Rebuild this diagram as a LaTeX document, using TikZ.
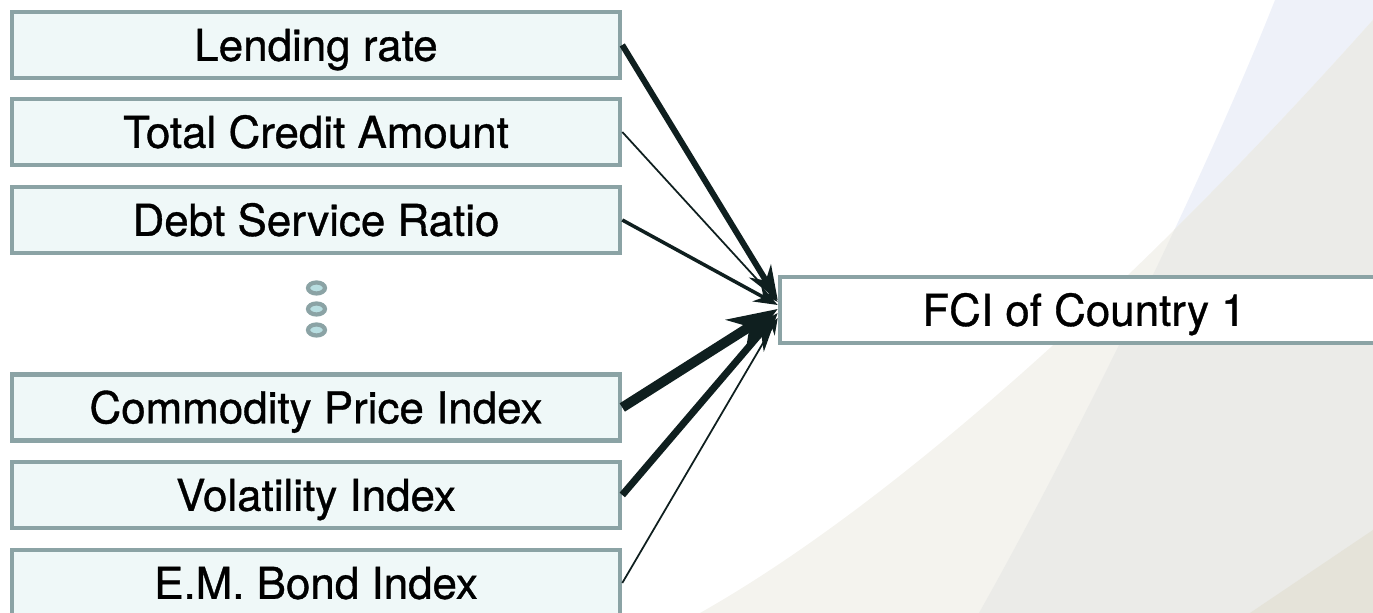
\documentclass[tikz,border=0pt]{standalone}
\usepackage{fontspec}
\setmainfont{TeX Gyre Heros}
\newfontfamily\labelfont[FakeBold=0.8]{TeX Gyre Heros}
\usepackage{tikz}
\usetikzlibrary{arrows.meta}
\definecolor{frameclr}{HTML}{8BA3A5}
\definecolor{boxclr}{HTML}{EFF8F8}
\definecolor{dotclr}{HTML}{B8DEE1}
\definecolor{linkclr}{HTML}{0F1F1F}
\definecolor{lavclr}{HTML}{EEF1F9}
\definecolor{sandclr}{HTML}{F4F3EE}
\definecolor{mistclr}{HTML}{EBEBE8}
\definecolor{cornerclr}{HTML}{E5E3D9}

\tikzset{
  factorbox/.style={draw=frameclr, fill=boxclr, line width=1.3pt,
    minimum width=6.08cm, minimum height=0.66cm, inner sep=0pt,
    text height=9pt, text depth=0pt,
    font=\labelfont\fontsize{12.5}{14}\selectfont},
  targetbox/.style={factorbox, fill=white},
  gapdot/.style={draw=frameclr, fill=dotclr, line width=1.2pt}
}

\begin{document}
\begin{tikzpicture}[scale=1.0]

\useasboundingbox (0,0) rectangle (13.73,-6.13);
\clip (0,0) rectangle (13.73,-6.13);

% --- the faint slide backdrop in the lower right ---------------------------
\fill[lavclr] (12.75,0) .. controls (12.00,-1.90) and (10.60,-4.70) .. (9.79,-6.13)
  -- (13.73,-6.13) -- (13.73,0) -- cycle;
\fill[sandclr] (7.00,-6.13) .. controls (9.00,-5.00) and (11.50,-2.70) .. (13.73,-0.20)
  -- (13.73,-6.13) -- cycle;
\begin{scope}
  \clip (7.00,-6.13) .. controls (9.00,-5.00) and (11.50,-2.70) .. (13.73,-0.20)
    -- (13.73,-6.13) -- cycle;
  \fill[mistclr] (12.75,0) .. controls (12.00,-1.90) and (10.60,-4.70) .. (9.79,-6.13)
    -- (13.73,-6.13) -- (13.73,0) -- cycle;
\end{scope}
\fill[cornerclr] (12.50,-6.13) -- (13.73,-5.30) -- (13.73,-6.13) -- cycle;

% --- the input factors ------------------------------------------------------
\node[factorbox] (lend)   at (3.16,-0.45)  {Lending rate};
\node[factorbox] (credit) at (3.16,-1.32)  {Total Credit Amount};
\node[factorbox] (debt)   at (3.16,-2.20)  {Debt Service Ratio};
\node[factorbox] (cmdty)  at (3.16,-4.075) {Commodity Price Index};
\node[factorbox] (vol)    at (3.16,-4.95)  {Volatility Index};
\node[factorbox] (embond) at (3.16,-5.83)  {E.M. Bond Index};

% --- the skipped rows -------------------------------------------------------
\foreach \y in {2.88, 3.09, 3.30}
  \draw[gapdot] (3.165,-\y) ellipse (0.085 and 0.055);

% --- the index ----------------------------------------------------------------
\node[targetbox] (fci) at (10.84,-3.10) {FCI of Country 1};

% --- weighted links: line width follows the loading -------------------------
\foreach \src/\w/\dy in {lend/1.7/0.10, credit/0.5/0.08, debt/1.0/0.05,
                         cmdty/2.8/0.01, vol/2.0/-0.03, embond/0.5/-0.08}
  \draw[-{Stealth[scale=0.9]}, line width=\w pt, linkclr]
    (\src.east) -- ([yshift=\dy cm] fci.west);

\end{tikzpicture}
\end{document}
